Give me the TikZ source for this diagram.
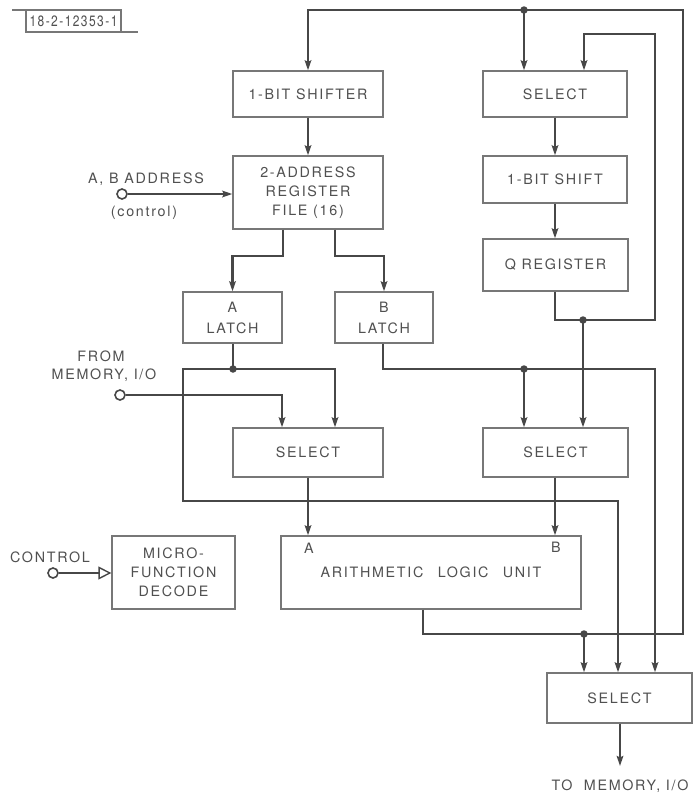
\documentclass[tikz,border=0pt]{standalone}
\usepackage{graphicx}
\usepackage{fontspec}
\setmainfont{TeX Gyre Heros}[LetterSpace=12]
\usetikzlibrary{arrows.meta}
\definecolor{ink}{HTML}{474747}
\definecolor{boxc}{HTML}{777777}
\definecolor{txt}{HTML}{505050}
\begin{document}
\begin{tikzpicture}[x=1pt,y=-1pt,
  box/.style={draw=boxc,line width=1.3pt,inner sep=0pt,align=center,text=txt,
    font=\fontsize{14.3}{19}\selectfont},
  lbl/.style={inner sep=0pt,align=center,text=txt,font=\fontsize{14.3}{19}\selectfont},
  ln/.style={draw=ink,line width=2.5pt},
  arr/.style={ln,-{Stealth[length=10pt,width=6.5pt,inset=1.5pt]}},
  port/.style={circle,draw=ink,line width=1.6pt,fill=white,minimum size=10pt,inner sep=0pt},
  dotc/.style={circle,fill=ink,minimum size=7.5pt,inner sep=0pt}]
\useasboundingbox[fill=white] (0,0) rectangle (694,796);

% title block
\node[lbl,font=\fontsize{15}{17}\selectfont] (title) at (73.5,21) {\scalebox{0.8}[1]{18-2-12353-1}};
\draw[boxc,line width=1.1pt] (12,10) -- (121,10) -- (121,32);
\draw[boxc,line width=1.1pt] (26,10) -- (26,32) -- (138,32);

% boxes
\node[box,minimum width=150,minimum height=46] (shifter) at (308,94) {1-BIT SHIFTER};
\node[box,minimum width=150,minimum height=73] (regfile) at (308,192.5) {2-ADDRESS\\REGISTER\\FILE (16)};
\node[box,minimum width=144,minimum height=46] (selT) at (555,94) {SELECT};
\node[box,minimum width=144,minimum height=47] (shift1) at (555,179.5) {1-BIT SHIFT};
\node[box,minimum width=145,minimum height=52] (qreg) at (555.5,265) {Q REGISTER};
\node[box,minimum width=99,minimum height=51,font=\fontsize{14.3}{21}\selectfont] (alatch) at (232.5,317.5) {A\\LATCH};
\node[box,minimum width=98,minimum height=51,font=\fontsize{14.3}{21}\selectfont] (blatch) at (384,317.5) {B\\LATCH};
\node[box,minimum width=150,minimum height=49] (selL) at (308,452.5) {SELECT};
\node[box,minimum width=145,minimum height=49] (selR) at (555.5,452.5) {SELECT};
\node[box,minimum width=300,minimum height=73] (alu) at (431,572.5) {ARITHMETIC\quad LOGIC\quad UNIT};
\node[box,minimum width=123,minimum height=73] (mfd) at (173.5,572.5) {MICRO-\\FUNCTION\\DECODE};
\node[box,minimum width=145,minimum height=50] (selB) at (619.5,698) {SELECT};
\node[lbl] (aluA) at (309,548) {A};
\node[lbl] (aluB) at (556,547) {B};

% external labels and ports
\node[lbl] (ablbl) at (146,179) {A, B ADDRESS};
\node[lbl] (abctl) at (144,213) {(control)};
\node[port] (abin) at (122,194) {};
\node[lbl] (fromlbl) at (101,356) {FROM};
\node[lbl] (memlbl) at (104,375) {MEMORY, I/O};
\node[port] (mem) at (120,395) {};
\node[lbl] (ctllbl) at (50,557) {CONTROL};
\node[port] (ctl) at (53,573) {};
\node[lbl] (outlbl) at (620,786) {TO\ \ MEMORY,\ I/O};

% junction coordinates
\coordinate (cA) at (423,634);
\coordinate (cB) at (683,634);
\coordinate (cC) at (683,10);
\coordinate (cD) at (308,10);
\coordinate (dTop) at (524,10);
\coordinate (dAlu) at (584,634);
\coordinate (q1) at (555,320);
\coordinate (q2) at (655,320);
\coordinate (q3) at (655,34);
\coordinate (q4) at (584,34);
\coordinate (dQ) at (583,320);
\coordinate (r1) at (283,256);
\coordinate (r2) at (335,256);
\coordinate (dA) at (233,369);
\coordinate (a2) at (335,369);
\coordinate (a3) at (183,369);
\coordinate (a4) at (183,501);
\coordinate (a5) at (618,501);
\coordinate (b1) at (383,369);
\coordinate (b2) at (655,369);
\coordinate (dB) at (524,369);
\coordinate (m1) at (282,395);
\coordinate (out) at (620,766);

% ALU output bus feeding back to top
\draw[arr] (alu.south -| cA) -- (cA) -- (cB) -- (cC) -- (cD) -- (shifter.north);
\draw[arr] (dTop) -- (selT.north -| dTop);
\draw[arr] (dAlu) -- (selB.north -| dAlu);

% left column
\draw[arr] (shifter.south) -- (regfile.north);
\draw[arr] (regfile.south -| r1) -- (r1) -- (r1 -| alatch.north) -- (alatch.north);
\draw[arr] (regfile.south -| r2) -- (r2) -- (r2 -| blatch.north) -- (blatch.north);
\draw[arr] (abin) -- (regfile.west |- abin);

% right column
\draw[arr] (selT.south) -- (shift1.north);
\draw[arr] (shift1.south) -- (qreg.north -| shift1.south);
\draw[arr] (qreg.south -| q1) -- (q1) -- (q2) -- (q3) -- (q4) -- (selT.north -| q4);
\draw[arr] (dQ) -- (selR.north -| dQ);

% A latch
\draw[arr] (alatch.south -| dA) -- (dA) -- (a2) -- (selL.north -| a2);
\draw[arr] (dA) -- (a3) -- (a4) -- (a5) -- (selB.north -| a5);
\draw[arr] (mem) -- (m1) -- (selL.north -| m1);

% B latch
\draw[arr] (blatch.south -| b1) -- (b1) -- (b2) -- (selB.north -| b2);
\draw[arr] (dB) -- (selR.north -| dB);

% select outputs into ALU
\draw[arr] (selL.south) -- (alu.north -| selL.south);
\draw[arr] (selR.south -| q1) -- (alu.north -| q1);

% control
\draw[ln,-{Triangle[open,length=13pt,width=13pt,line width=1.4pt]}] (ctl) -- (mfd.west |- ctl);

% output
\draw[arr] (selB.south -| out) -- (out);

% dots
\node[dotc] (jTop) at (dTop) {};
\node[dotc] (jAlu) at (dAlu) {};
\node[dotc] (jQ) at (dQ) {};
\node[dotc] (jA) at (dA) {};
\node[dotc] (jB) at (dB) {};
\end{tikzpicture}
\end{document}
